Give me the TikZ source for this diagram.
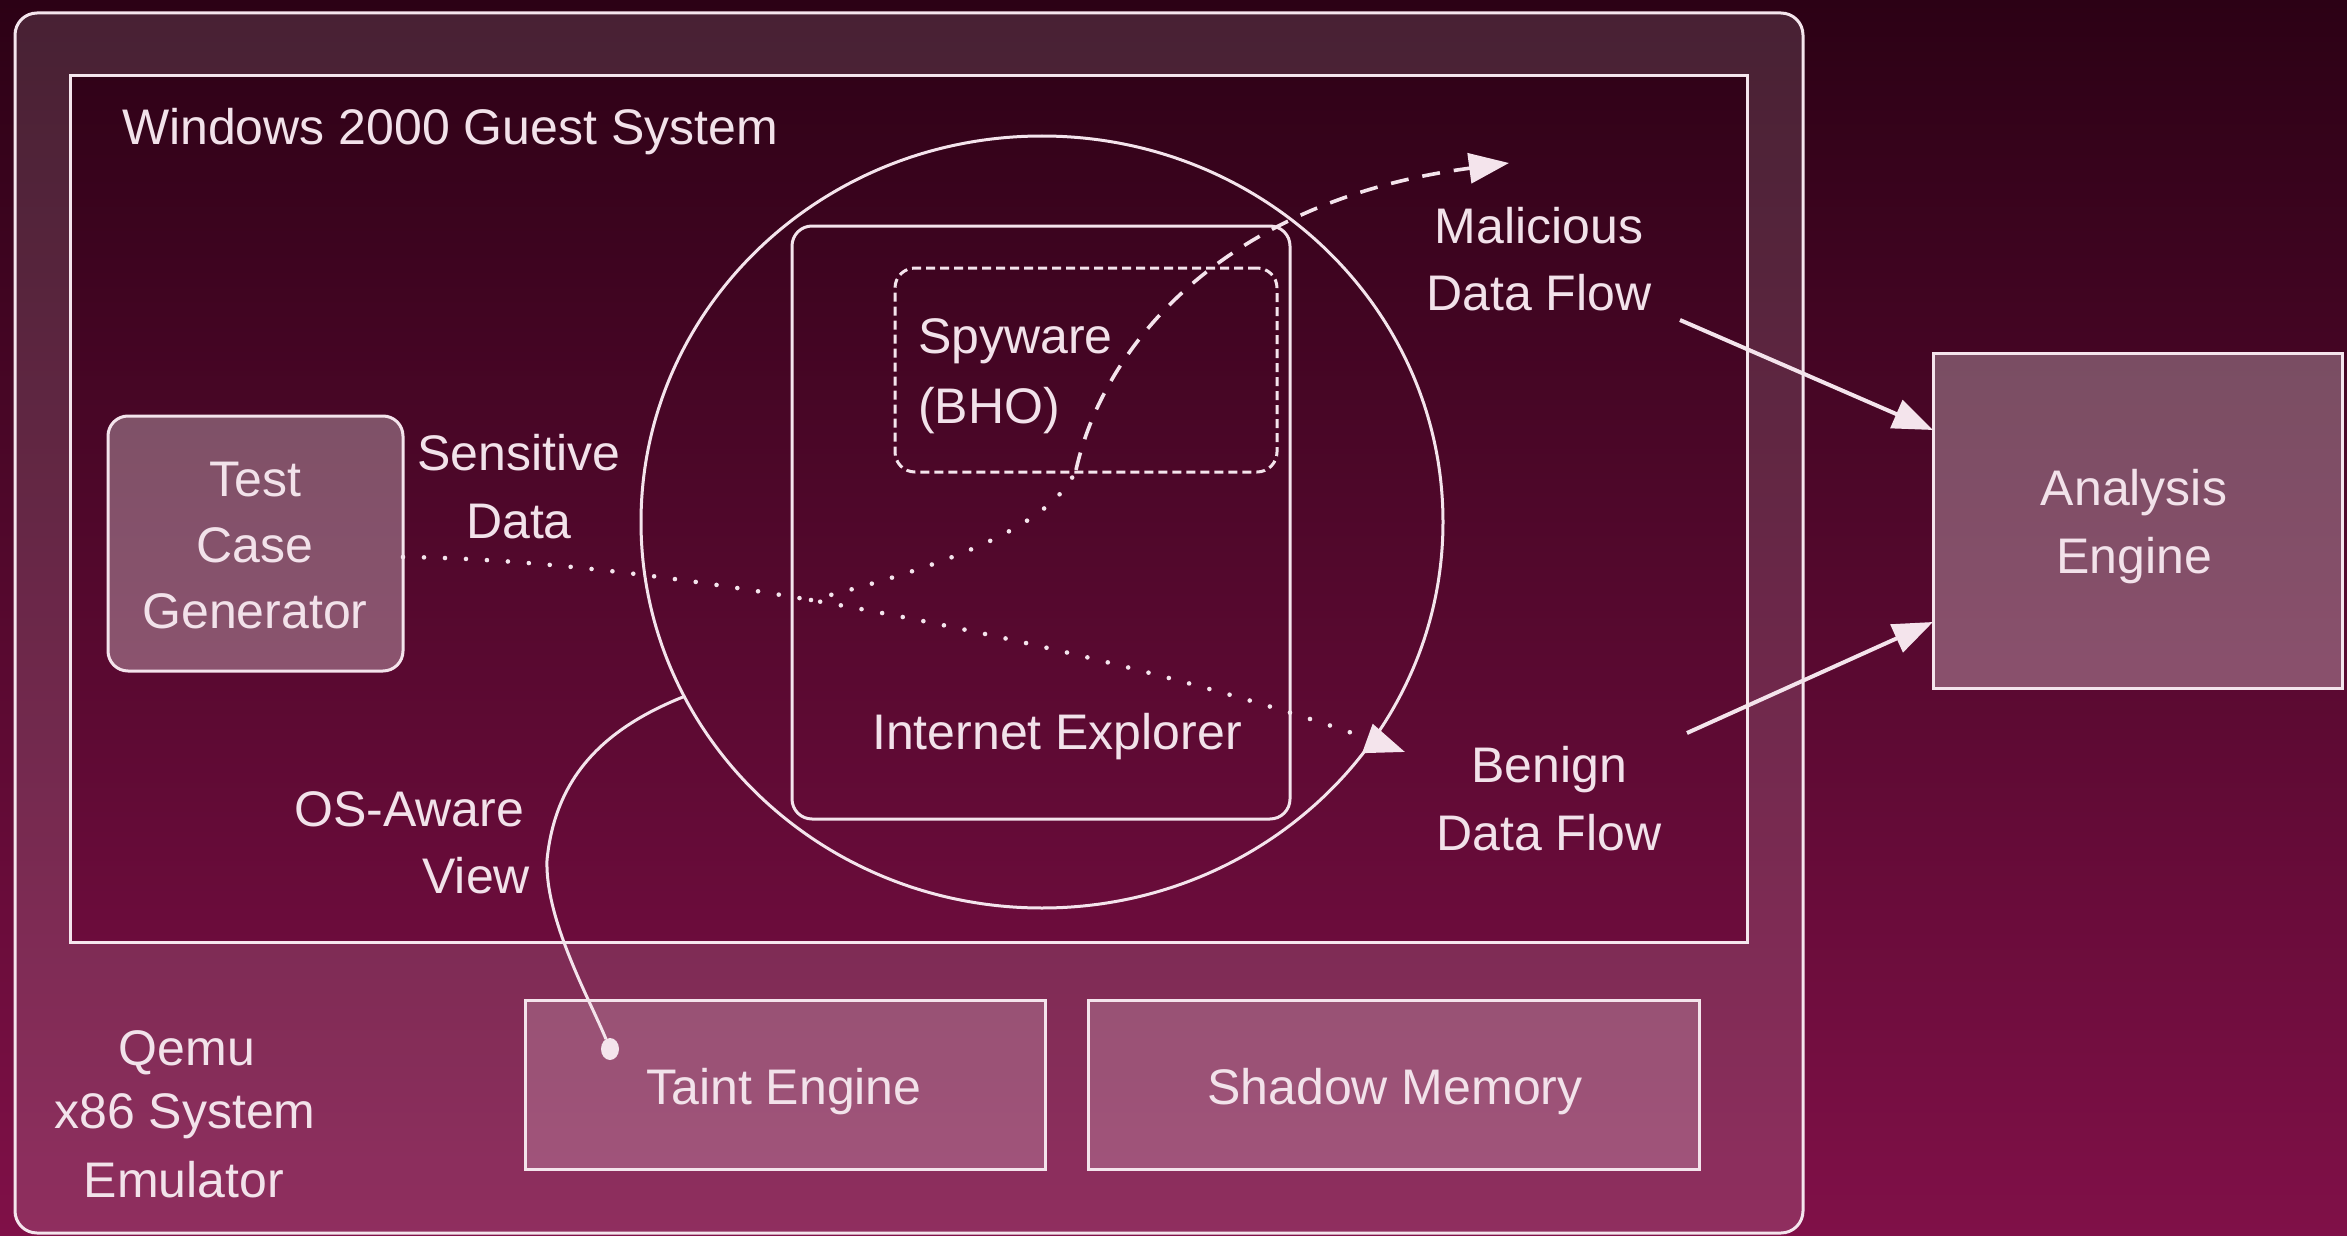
\documentclass[tikz,border=0pt]{standalone}
\usepackage{fontspec}
\setmainfont{Liberation Sans}
\usetikzlibrary{arrows.meta,shapes.geometric,calc}
\definecolor{bgtop}{RGB}{44,1,21}
\definecolor{bgbot}{RGB}{128,16,72}
\definecolor{ink}{RGB}{244,228,236}
\definecolor{txt}{RGB}{242,226,234}
\begin{document}
\begin{tikzpicture}[x=0.5pt,y=-0.5pt,
  every node/.style={inner sep=0pt, outer sep=0pt},
  lbl/.style={text=txt, font=\fontsize{25}{30}\selectfont, anchor=base},
  lblw/.style={lbl, anchor=base west},
  lble/.style={lbl, anchor=base east},
  line/.style={draw=ink, line width=1.5pt},
  frame/.style={line, rectangle},
  tile/.style={frame, fill=white, fill opacity=#1},
  dotflow/.style={draw=ink, line width=2.3pt, line cap=round, dash pattern=on 0pt off 10.5pt},
  dashflow/.style={draw=ink, line width=1.8pt, dash pattern=on 9pt off 7pt},
  tip/.style={-{Triangle[length=20pt,width=15pt]}},
  solidarrow/.style={draw=ink, line width=2pt, tip}
]
\useasboundingbox (0,0) rectangle (2347,1236);
\shade[top color=bgtop, bottom color=bgbot] (0,0) rectangle (2347,1236);

% system frames
\node[frame, rounded corners=11pt, minimum width=894pt, minimum height=610pt] (qemu) at (909,623) {};
\node[frame, minimum width=838.5pt, minimum height=433pt] (guest) at (908.5,509) {};
\fill[white, fill opacity=0.13, even odd rule, rounded corners=11pt]
  (qemu.north west) rectangle (qemu.south east)
  [sharp corners] (guest.north west) rectangle (guest.south east);

% boxes
\node[tile=0.30, rounded corners=10pt, minimum width=147.5pt, minimum height=127.5pt] (tcg) at (255.5,543.5) {};
\node[frame, ellipse, minimum width=401pt, minimum height=386pt] (ctx) at (1042,522) {};
\node[frame, rounded corners=10pt, minimum width=249pt, minimum height=296.5pt] (ie) at (1041,522.5) {};
\node[frame, rounded corners=10pt, dash pattern=on 4.5pt off 2.5pt, minimum width=191pt, minimum height=102pt] (spy) at (1086,370) {};
\node[tile=0.29, minimum width=204.5pt, minimum height=167.5pt] (ae) at (2137.5,520.5) {};
\node[tile=0.18, minimum width=260pt, minimum height=84.5pt] (taint) at (785,1084.5) {};
\node[tile=0.18, minimum width=305.5pt, minimum height=84.5pt] (shadow) at (1393.5,1084.5) {};
\node[ellipse, fill=ink, minimum width=9pt, minimum height=11pt] (tdot) at (610,1049) {};

% labels
\node[lblw] (wintitle) at (122,145) {Windows 2000 Guest System};
\node[lbl] (tcgA) at (255,496) {Test};
\node[lbl] (tcgB) at (255,562) {Case};
\node[lbl] (tcgC) at (255,628) {Generator};
\node[lbl] (sensA) at (519,470) {Sensitive};
\node[lbl] (sensB) at (519,538) {Data};
\node[lblw] (spyA) at (918,353) {Spyware};
\node[lblw] (spyB) at (918,423) {(BHO)};
\node[lbl] (ieT) at (1057,749) {Internet Explorer};
\node[lbl] (malA) at (1539,243) {Malicious};
\node[lbl] (malB) at (1539,310) {Data Flow};
\node[lbl] (benA) at (1549,782) {Benign};
\node[lbl] (benB) at (1549,850) {Data Flow};
\node[lbl] (aeA) at (2134,505) {Analysis};
\node[lbl] (aeB) at (2134,573) {Engine};
\node[lble] (osA) at (524,826) {OS-Aware};
\node[lble] (osB) at (530,893) {View};
\node[lbl] (taintT) at (784,1104) {Taint Engine};
\node[lbl] (shadowT) at (1395,1104) {Shadow Memory};
\node[lbl] (qA) at (187,1065) {Qemu};
\node[lbl] (qB) at (185,1128) {x86 System};
\node[lbl] (qC) at (184,1197) {Emulator};

% data flows
\coordinate (bstart) at ([yshift=-6.75pt]tcg.east);
\coordinate (btip) at (1405,752);
\coordinate (branch) at (811,600);
\coordinate (mmid) at (1076,470);
\coordinate (mtip) at (1509,163);
\coordinate (mfrom) at (1680,320);
\coordinate (bfrom) at (1687,733);

\draw[dotflow, tip] (bstart) .. controls (700,560) and (1150,660) .. (btip);
\draw[dotflow] (branch) .. controls (930,570) and (1050,530) .. (mmid);
\draw[dashflow, tip] (mmid) .. controls (1105,340) and (1230,200) .. (mtip);

\draw[solidarrow] (mfrom) -- ([yshift=45.25pt]ae.west);
\draw[solidarrow] (bfrom) -- ([yshift=-50.75pt]ae.west);

% OS-aware view
\draw[line] (ctx.206.5) .. controls (600,730) and (555,780) .. (547,860)
  .. controls (545,920) and (590,1000) .. (tdot);
\end{tikzpicture}
\end{document}
